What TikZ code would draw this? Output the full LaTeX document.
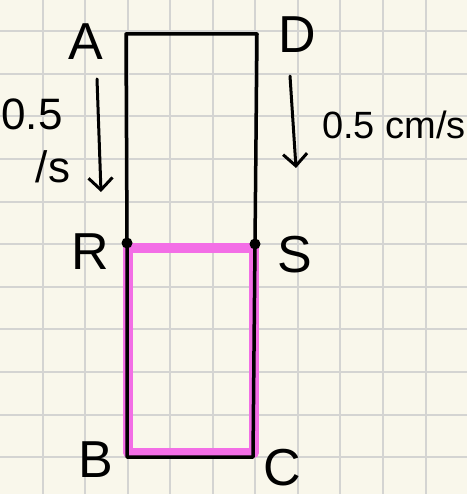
\documentclass[tikz,border=0pt]{standalone}
\usepackage{fontspec}
\setmainfont{Liberation Sans}
\usetikzlibrary{arrows.meta}
\definecolor{paper}{RGB}{249,247,235}
\definecolor{gridc}{RGB}{212,212,210}
\definecolor{hilite}{RGB}{243,110,230}
\tikzset{
  gridline/.style={draw=gridc, line width=2pt},
  edge/.style={draw=black, line width=3.5pt, line cap=round, line join=round},
  pinkedge/.style={draw=hilite, line width=9.5pt, line cap=round, line join=round},
  dotmark/.style={circle, fill=black, inner sep=0pt, minimum size=11pt},
  biglabel/.style={inner sep=0pt, font=\fontsize{52}{52}\selectfont},
  ratelabel/.style={inner sep=0pt, font=\fontsize{44}{44}\selectfont},
  motion/.style={draw=black, line width=3pt, line cap=round, -{Straight Barb[length=12pt,width=24pt,line width=3pt]}}
}
\begin{document}
\begin{tikzpicture}[x=1pt,y=-1pt]
\fill[paper] (0,0) rectangle (467,494);
\useasboundingbox (0,0) rectangle (467,494);
\foreach \k in {1,...,10} {\draw[gridline] ({42.55*\k},0) -- ({42.55*\k},494);}
\foreach \k in {1,...,12} {\draw[gridline] (0,{-11.5+42.6*\k}) -- (467,{-11.5+42.6*\k});}
% corners
\coordinate (A) at (126,34);
\coordinate (D) at (257,34);
\coordinate (R) at (127,243);
\coordinate (S) at (255,244);
\coordinate (B) at (127,457);
\coordinate (C) at (253,457);
\coordinate (Rp) at (128,248);
\coordinate (Sp) at (254,248);
\coordinate (Bp) at (128,453);
\coordinate (Cp) at (254,453);
% pink highlight
\draw[pinkedge] (Rp) -- (Sp) -- (Cp) -- (Bp) -- cycle;
% black outline
\draw[edge] (R) -- (A) -- (D) -- (S);
\draw[edge] (R) -- (B) -- (C) -- (S);
\node[dotmark] (Rdot) at (R) {};
\node[dotmark] (Sdot) at (S) {};
% labels
\node[biglabel] (lA) at (86,42) {A};
\node[biglabel] (lD) at (297,35) {D};
\node[biglabel] (lR) at (90,252) {R};
\node[biglabel] (lS) at (295,255) {S};
\node[biglabel] (lB) at (96,460) {B};
\node[biglabel, text depth=0pt, anchor=base] (lC) at (282,485) {C};
% motion arrows
\coordinate (a1s) at (97,79);
\coordinate (a1e) at (101,192);
\coordinate (a2s) at (290,76);
\coordinate (a2e) at (296,168);
\draw[motion] (a1s) -- (a1e);
\draw[motion] (a2s) -- (a2e);
\node[ratelabel] (r1) at (32,114) {0.5};
\node[ratelabel] (r2) at (53,167) {/s};
\node[inner sep=0pt, font=\fontsize{38}{38}\selectfont] (r3) at (394,125) {0.5 cm/s};
\end{tikzpicture}
\end{document}
